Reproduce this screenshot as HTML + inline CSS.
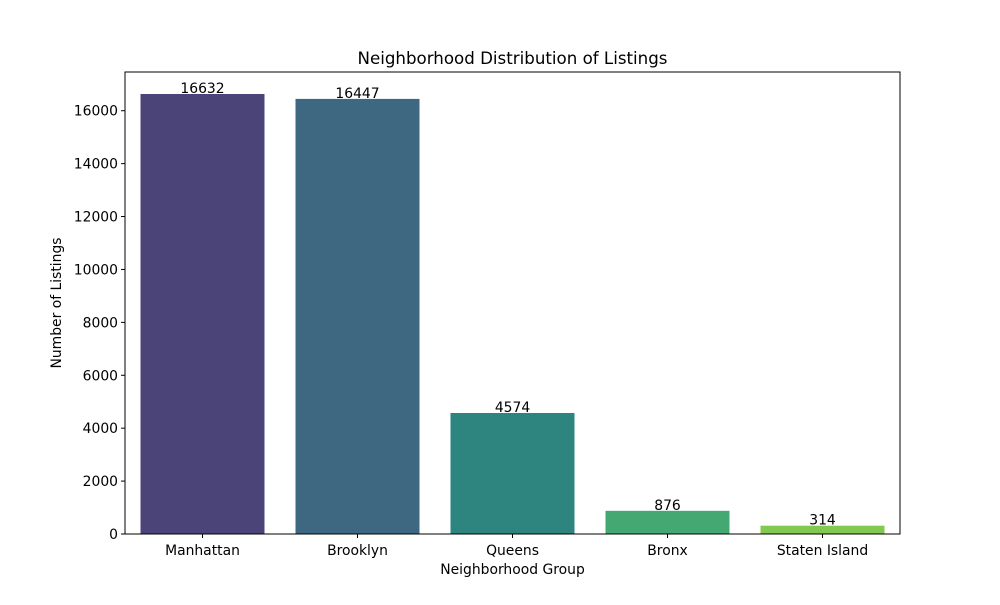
<!DOCTYPE html>
<html><head><meta charset="utf-8"><style>
body{margin:0;background:#fff;font-family:"Liberation Sans","DejaVu Sans",sans-serif}
svg text{font-family:"DejaVu Sans","Liberation Sans",sans-serif}
</style></head><body>
<svg width="1000" height="600" xmlns="http://www.w3.org/2000/svg">
<rect width="1000" height="600" fill="#fff"/>
<g id="plot"></g>
</svg>
<script>
const categories=["Manhattan","Brooklyn","Queens","Bronx","Staten Island"];
const counts=[16632,16447,4574,876,314];
const colors=["#4b4478","#3e6882","#2e857f","#44a873","#84c94f"];
const yTicks=[0,2000,4000,6000,8000,10000,12000,14000,16000];
const L=125,R=900,T=72,B=534;
const ymax=Math.max(...counts)*1.05;
const y=v=>B-(v/ymax)*(B-T);
const band=(R-L)/categories.length;
const x=i=>L+band*(i+0.5);
const ns="http://www.w3.org/2000/svg";
const g=document.getElementById('plot');
function mk(t,a,txt){const e=document.createElementNS(ns,t);for(const k in a)e.setAttribute(k,a[k]);if(txt!==undefined)e.textContent=txt;g.appendChild(e);return e;}
categories.forEach((c,i)=>{
 const w=band*0.8;
 const r=mk('rect',{x:x(i)-w/2,y:y(counts[i]),width:w,height:B-y(counts[i]),fill:colors[i]});
 
 
 const t=mk('text',{x:x(i),y:y(counts[i])-1,'text-anchor':'middle','font-size':13.9},counts[i]);
 
 
 mk('line',{x1:x(i),x2:x(i),y1:B,y2:B+4,stroke:'#000'});
 const xl=mk('text',{x:x(i),y:B+21,'text-anchor':'middle','font-size':13.9},c);
 
 
});
yTicks.forEach(v=>{
 mk('line',{x1:L-4,x2:L,y1:y(v),y2:y(v),stroke:'#000'});
 const t=mk('text',{x:L-7,y:y(v)+5,'text-anchor':'end','font-size':13.9},v);
 
 
});
const f=mk('rect',{x:L,y:T,width:R-L,height:B-T,fill:'none',stroke:'#000','stroke-width':1});


const ti=mk('text',{x:(L+R)/2,y:64,'text-anchor':'middle','font-size':16.67},'Neighborhood Distribution of Listings');


const xt=mk('text',{x:(L+R)/2,y:574,'text-anchor':'middle','font-size':13.9},'Neighborhood Group');


const yt=mk('text',{x:61,y:(T+B)/2,'text-anchor':'middle','font-size':13.9,transform:`rotate(-90 61 ${(T+B)/2})`},'Number of Listings');


</script>
</body></html>
